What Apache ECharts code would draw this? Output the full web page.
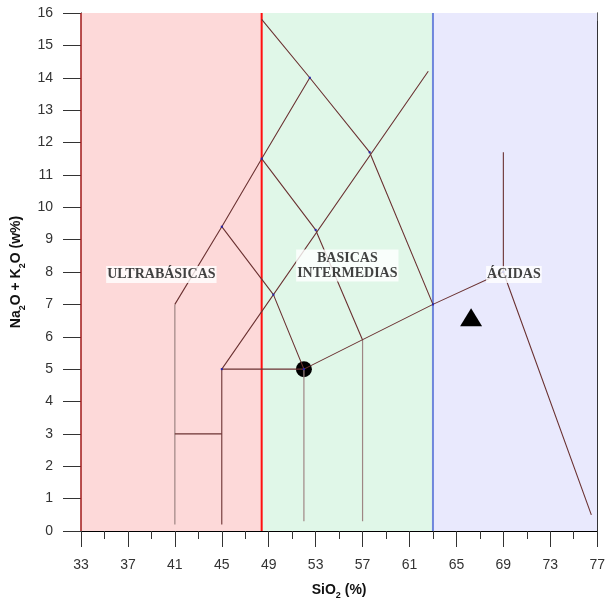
<!DOCTYPE html>
<html>
<head>
<meta charset="utf-8">
<script src="https://cdn.jsdelivr.net/npm/echarts@6/dist/echarts.min.js"></script>
<style>
  html, body { margin: 0; padding: 0; background: #fff; }
  #chart { width: 608px; height: 605px; }
</style>
</head>
<body>
<div id="chart"></div>
<script>
// Tick labels of the two axes
const xTickLabels = [33, 37, 41, 45, 49, 53, 57, 61, 65, 69, 73, 77];
const yTickLabels = [0, 1, 2, 3, 4, 5, 6, 7, 8, 9, 10, 11, 12, 13, 14, 15, 16];

// SiO2 limits of the three rock groups
const regionEdges = [33, 48.4, 63, 77];
const regionNames = ['ULTRABÁSICAS', 'BASICAS\nINTERMEDIAS', 'ÁCIDAS'];
const regionLabelX = [39.85, 55.7, 69.9];
const regionLabelY = [7.92, 8.2, 7.92];

// TAS field boundaries (SiO2 %, Na2O + K2O %)
const fieldLines = [
  [[41, 7], [45, 9.4], [48.4, 11.5], [52.5, 14], [48.4, 15.8]],
  [[45, 0.2], [45, 5], [62.6, 14.2]],
  [[45, 9.4], [49.4, 7.3], [52, 5]],
  [[48.4, 11.5], [53, 9.3], [57, 5.9]],
  [[52.5, 14], [57.6, 11.7], [63, 7]],
  [[41, 3], [45, 3]],
  [[45, 5], [52, 5], [63, 7], [69, 8], [76.5, 0.5]],
  [[69, 8], [69, 11.7]]
];
const fieldLinesLight = [
  [[41, 0.2], [41, 7]],
  [[52, 5], [52, 0.3]],
  [[57, 5.9], [57, 0.3]]
];

// Analysed samples
const sampleCircle = [[52, 5]];
const sampleTriangle = [[66.25, 6.6]];

const xMin = xTickLabels[0], xMax = xTickLabels[xTickLabels.length - 1];
const xStep = xTickLabels[1] - xTickLabels[0];
const yMin = yTickLabels[0], yMax = yTickLabels[yTickLabels.length - 1];
const yStep = yTickLabels[1] - yTickLabels[0];

const regionFills = ['#fdd9d9', '#e0f7e8', '#e9e9fd'];
const edgeColors = ['#a01818', '#ff1010', '#6f86dc', '#000000'];
const edgeWidths = [1.5, 2, 2, 0];

const series = [];

// Coloured group bands
series.push({
  type: 'line', data: [], silent: true, z: 1,
  markArea: {
    silent: true,
    data: regionFills.map((c, i) => [
      { xAxis: regionEdges[i], yAxis: yMin, itemStyle: { color: c, borderWidth: 0, opacity: 1 } },
      { xAxis: regionEdges[i + 1], yAxis: yMax }
    ])
  }
});

// Group border lines
regionEdges.forEach((x, i) => {
  if (!edgeWidths[i]) return;
  series.push({
    type: 'line', silent: true, z: 3, symbol: 'none',
    data: [[x, yMin], [x, yMax]],
    lineStyle: { color: edgeColors[i], width: edgeWidths[i] }
  });
});

// Small vertex dots only on the inner corners of each polyline
function vertexDots(n) {
  return {
    symbol: 'rect', showSymbol: true,
    symbolSize: (v, p) => (p.dataIndex === 0 || p.dataIndex === n - 1) ? 0 : 2,
    itemStyle: { color: '#2222b0' }
  };
}

// Black sample circle sits under the boundary lines
series.push({
  type: 'scatter', silent: true, z: 4, data: sampleCircle,
  symbol: 'circle', symbolSize: 16, itemStyle: { color: '#000', opacity: 1 }
});

fieldLinesLight.forEach(pts => {
  series.push(Object.assign({
    type: 'line', silent: true, z: 5, data: pts,
    lineStyle: { color: '#9e8684', width: 1.2 }
  }, vertexDots(pts.length)));
});
fieldLines.forEach(pts => {
  series.push(Object.assign({
    type: 'line', silent: true, z: 6, data: pts,
    lineStyle: { color: '#6b3232', width: 1.1 }
  }, vertexDots(pts.length)));
});

series.push({
  type: 'scatter', silent: true, z: 7, data: sampleTriangle,
  symbol: 'triangle', symbolSize: [22, 18], itemStyle: { color: '#000', opacity: 1 }
});

series.push({
  type: 'scatter', silent: true, z: 8, symbolSize: 0,
  data: regionNames.map((n, i) => ({ name: n, value: [regionLabelX[i], regionLabelY[i]] })),
  label: {
    show: true, position: 'inside', formatter: '{b}',
    fontFamily: 'Liberation Serif', fontWeight: 'bold', fontSize: 14, lineHeight: 15,
    color: '#111', backgroundColor: '#fff', padding: [1, 1], align: 'center'
  }
});

const nameRich = {
  b: { fontFamily: 'Liberation Sans', fontWeight: 'bold', fontSize: 14, color: '#111', lineHeight: 16, verticalAlign: 'top' },
  s: { fontFamily: 'Liberation Sans', fontWeight: 'bold', fontSize: 9, color: '#111', lineHeight: 9, padding: [8, 0, 0, 0], verticalAlign: 'top' }
};

const tickLabel = { fontFamily: 'Liberation Sans', fontSize: 14, color: '#333' };

const option = {
  animation: false,
  grid: { left: 81, right: 7, top: 13, bottom: 73, containLabel: false },
  xAxis: [{
    type: 'value', position: 'bottom', min: xMin, max: xMax, interval: xStep,
    axisLine: { show: true, onZero: false, lineStyle: { color: '#000', width: 1 } },
    axisTick: { show: true, length: 16, lineStyle: { color: '#333' } },
    minorTick: { show: true, splitNumber: 2, length: 8, lineStyle: { color: '#333' } },
    splitLine: { show: false }, minorSplitLine: { show: false },
    axisLabel: Object.assign({ margin: 27 }, tickLabel),
    name: '{b|SiO}{s|2}{b| (%)}', nameLocation: 'middle', nameGap: 52,
    nameTextStyle: { rich: nameRich }
  }, {
    type: 'value', position: 'top', min: xMin, max: xMax, interval: xStep / 2,
    axisLine: { show: true, onZero: false, lineStyle: { color: '#000', width: 1 } },
    axisTick: { show: true, inside: true, length: 8, lineStyle: { color: '#333' } },
    axisLabel: { show: false }, splitLine: { show: false }
  }],
  yAxis: [{
    type: 'value', position: 'left', min: yMin, max: yMax, interval: yStep,
    axisLine: { show: true, onZero: false, lineStyle: { color: '#000', width: 1 } },
    axisTick: { show: true, length: 18, lineStyle: { color: '#333' } },
    splitLine: { show: false },
    axisLabel: Object.assign({ margin: 28 }, tickLabel),
    name: '{b|Na}{s|2}{b|O + K}{s|2}{b|O (w%)}', nameLocation: 'middle', nameGap: 54,
    nameTextStyle: { rich: nameRich }
  }, {
    type: 'value', position: 'right', min: yMin, max: yMax, interval: yStep,
    axisLine: { show: true, onZero: false, lineStyle: { color: '#000', width: 1 } },
    axisTick: { show: false }, axisLabel: { show: false }, splitLine: { show: false }
  }],
  series: series
};

const chart = echarts.init(document.getElementById('chart'), null, { renderer: 'canvas' });
chart.setOption(option);
</script>
</body>
</html>
